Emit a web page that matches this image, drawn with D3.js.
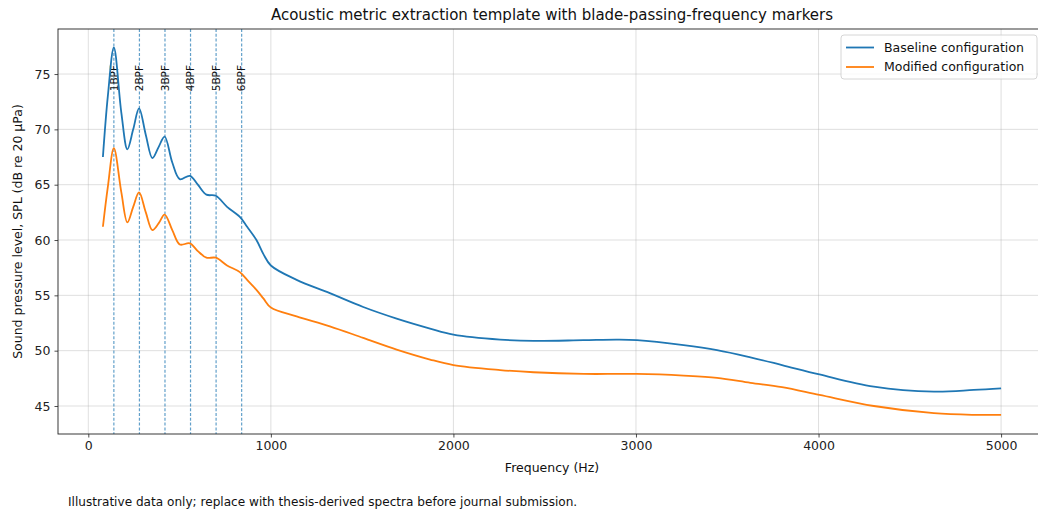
<!DOCTYPE html>
<html>
<head>
<meta charset="utf-8">
<script src="https://cdn.jsdelivr.net/npm/d3@7"></script>
<style>
  html, body { margin: 0; padding: 0; background: #fff; overflow: hidden; }
  svg { display: block; font-family: 'DejaVu Sans', sans-serif; }
</style>
</head>
<body>
<div id="chart"></div>
<script>
const TITLE = 'Acoustic metric extraction template with blade-passing-frequency markers';
const X_LABEL = 'Frequency (Hz)';
const Y_LABEL = 'Sound pressure level, SPL (dB re 20 µPa)';
const FOOTNOTE = 'Illustrative data only; replace with thesis-derived spectra before journal submission.';

// frequency grid (Hz)
const FREQ = [80, 107, 140, 181, 214, 246, 278, 315, 351, 385, 418, 460, 501, 556, 600, 647, 698,
  760, 830, 870, 921, 960, 1000, 1141, 1323, 1506, 1689, 1872, 2000, 2256, 2439, 2713, 2900,
  3005, 3261, 3444, 3627, 3800, 4005, 4303, 4632, 4850, 5000];

const BASELINE = [67.5, 73.0, 77.4, 71.5, 68.2, 70.0, 71.9, 69.5, 67.4, 68.4, 69.35, 67.0, 65.5,
  65.8, 65.0, 64.1, 64.0, 63.0, 62.1, 61.2, 60.0, 58.7, 57.7, 56.4, 55.2, 53.95, 52.9, 52.0, 51.45,
  51.0, 50.88, 50.95, 51.0, 50.95, 50.5, 50.05, 49.4, 48.7, 47.85, 46.75, 46.3, 46.45, 46.6];

const MODIFIED = [61.2, 64.8, 68.3, 64.3, 61.6, 63.0, 64.3, 62.5, 60.9, 61.5, 62.3, 60.9, 59.6,
  59.7, 59.0, 58.4, 58.4, 57.7, 57.1, 56.4, 55.5, 54.7, 53.9, 53.1, 52.2, 51.15, 50.1, 49.2, 48.7,
  48.25, 48.05, 47.9, 47.9, 47.9, 47.75, 47.55, 47.1, 46.7, 46.0, 45.0, 44.35, 44.2, 44.2];

const SERIES_NAMES = ['Baseline configuration', 'Modified configuration'];
const SERIES_COLORS = ['#1f77b4', '#ff7f0e'];

const BPF_FREQS = [140, 280, 420, 560, 700, 840];
const BPF_LABELS = ['1BPF', '2BPF', '3BPF', '4BPF', '5BPF', '6BPF'];

const X_TICKS = [0, 1000, 2000, 3000, 4000, 5000];
const Y_TICKS = [45, 50, 55, 60, 65, 70, 75];

const W = 1038, H = 513;
const M = { left: 58, right: 1046, top: 29, bottom: 434 };

const svg = d3.select('#chart').append('svg')
  .attr('width', W).attr('height', H);

const x = d3.scaleLinear().domain([-166, 5246]).range([M.left, M.right]);
const y = d3.scaleLinear().domain([42.47, 79.07]).range([M.bottom, M.top]);

// ── grid ────────────────────────────────────────────────────────────────
const grid = svg.append('g');
grid.selectAll('.gx').data(X_TICKS).join('line')
  .attr('x1', d => x(d)).attr('x2', d => x(d))
  .attr('y1', M.top).attr('y2', M.bottom)
  .attr('stroke', '#b0b0b0').attr('stroke-opacity', 0.5).attr('stroke-width', 0.8);
grid.selectAll('.gy').data(Y_TICKS).join('line')
  .attr('x1', M.left).attr('x2', M.right)
  .attr('y1', d => y(d)).attr('y2', d => y(d))
  .attr('stroke', '#b0b0b0').attr('stroke-opacity', 0.5).attr('stroke-width', 0.8);

// ── BPF markers ─────────────────────────────────────────────────────────
const bpf = svg.append('g');
bpf.selectAll('line').data(BPF_FREQS).join('line')
  .attr('x1', d => x(d)).attr('x2', d => x(d))
  .attr('y1', M.top).attr('y2', M.bottom)
  .attr('stroke', '#1f77b4').attr('stroke-opacity', 0.7)
  .attr('stroke-width', 1.2).attr('stroke-dasharray', '3,1.8');

// ── lines ───────────────────────────────────────────────────────────────
const line = d3.line()
  .x(d => x(d[0])).y(d => y(d[1]))
  .curve(d3.curveCatmullRom.alpha(0.5));

[BASELINE, MODIFIED].forEach((vals, i) => {
  svg.append('path')
    .datum(FREQ.map((f, j) => [f, vals[j]]))
    .attr('fill', 'none')
    .attr('stroke', SERIES_COLORS[i])
    .attr('stroke-width', 1.8)
    .attr('d', line);
});

bpf.selectAll('text').data(BPF_FREQS).join('text')
  .attr('transform', d => `translate(${x(d)},${65}) rotate(-90)`)
  .attr('text-anchor', 'end')
  .attr('dy', '0.35em')
  .attr('font-size', '10.5px')
  .attr('fill', '#111')
  .text((d, i) => BPF_LABELS[i]);

// ── axes ────────────────────────────────────────────────────────────────
const xAxis = svg.append('g')
  .attr('transform', `translate(0,${M.bottom})`)
  .call(d3.axisBottom(x).tickValues(X_TICKS).tickSize(3.5).tickPadding(4).tickFormat(d3.format('d')));
const yAxis = svg.append('g')
  .attr('transform', `translate(${M.left},0)`)
  .call(d3.axisLeft(y).tickValues(Y_TICKS).tickSize(3.5).tickPadding(4));

[xAxis, yAxis].forEach(a => {
  a.select('.domain').remove();
  a.selectAll('.tick line').attr('stroke', '#222').attr('stroke-width', 0.8);
  a.selectAll('.tick text')
    .attr('font-family', "'DejaVu Sans', sans-serif")
    .attr('font-size', '12.5px').attr('fill', '#222');
});

// frame
svg.append('rect')
  .attr('x', M.left).attr('y', M.top)
  .attr('width', M.right - M.left).attr('height', M.bottom - M.top)
  .attr('fill', 'none').attr('stroke', '#222').attr('stroke-width', 0.9);

// ── text ────────────────────────────────────────────────────────────────
svg.append('text')
  .attr('x', (M.left + M.right) / 2).attr('y', 20)
  .attr('text-anchor', 'middle').attr('font-size', '15px').attr('fill', '#111')
  .text(TITLE);

svg.append('text')
  .attr('x', (M.left + M.right) / 2).attr('y', 472)
  .attr('text-anchor', 'middle').attr('font-size', '12.5px').attr('fill', '#111')
  .text(X_LABEL);

svg.append('text')
  .attr('transform', `translate(22,${(M.top + M.bottom) / 2}) rotate(-90)`)
  .attr('text-anchor', 'middle').attr('font-size', '12.5px').attr('fill', '#111')
  .text(Y_LABEL);

svg.append('text')
  .attr('x', 68).attr('y', 506)
  .attr('font-size', '12.1px').attr('fill', '#111')
  .text(FOOTNOTE);

// ── legend ──────────────────────────────────────────────────────────────
const lg = svg.append('g').attr('transform', 'translate(841,35)');
lg.append('rect')
  .attr('width', 196).attr('height', 44).attr('rx', 3)
  .attr('fill', '#fff').attr('fill-opacity', 0.8)
  .attr('stroke', '#cccccc').attr('stroke-width', 0.8);
SERIES_NAMES.forEach((name, i) => {
  const row = lg.append('g').attr('transform', `translate(0,${12.5 + i * 19.5})`);
  row.append('line')
    .attr('x1', 5).attr('x2', 33)
    .attr('stroke', SERIES_COLORS[i]).attr('stroke-width', 1.8);
  row.append('text')
    .attr('x', 43).attr('dy', '0.35em')
    .attr('font-size', '12.5px').attr('fill', '#111')
    .text(name);
});
</script>
</body>
</html>
